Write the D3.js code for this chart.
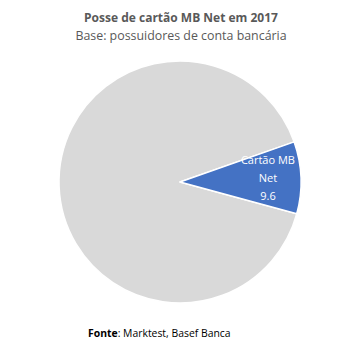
<!DOCTYPE html>
<html>
<head>
<meta charset="utf-8">
<script src="https://cdn.jsdelivr.net/npm/d3@7"></script>
<style>
  body { margin: 0; background: #fff; }
  text { font-family: "Open Sans", "Noto Sans", sans-serif; }
</style>
</head>
<body>
<svg width="359" height="354"></svg>
<script>
const categories = ['Outros', 'Cartão MB Net'];
const values = [90.4, 9.6];
const labelLines = [null, ['Cartão MB', 'Net', '9.6']];
const COLORS = ['#d9d9d9', '#4472c4'];

let svg = d3.select('svg');
let cx = 180, cy = 182, radius = 121;

svg.append('text')
  .attr('x', 181).attr('y', 22)
  .attr('text-anchor', 'middle')
  .attr('font-size', '12px')
  .attr('font-weight', 'bold')
  .attr('fill', '#595959')
  .text('Posse de cartão MB Net em 2017');

svg.append('text')
  .attr('x', 181).attr('y', 40)
  .attr('text-anchor', 'middle')
  .attr('font-size', '12.4px')
  .attr('fill', '#595959')
  .text('Base: possuidores de conta bancária');

// grey slice starts at the lower edge of the blue one
let start = 105.2 * Math.PI / 180;
let pie = d3.pie().sort(null).startAngle(start).endAngle(start + 2 * Math.PI);
let arcs = pie(values);
let arc = d3.arc().innerRadius(0).outerRadius(radius);
let labelArc = d3.arc().innerRadius(88).outerRadius(88);

let g = svg.append('g').attr('transform', `translate(${cx},${cy})`);

g.selectAll('path')
  .data(arcs)
  .enter()
  .append('path')
  .attr('d', arc)
  .attr('fill', (d, i) => COLORS[i])
  .attr('stroke', '#fff')
  .attr('stroke-width', 1.5)
  .attr('stroke-linejoin', 'round');

arcs.forEach((d, i) => {
  if (!labelLines[i]) return;
  let [lx, ly] = labelArc.centroid(d);
  let t = g.append('text')
    .attr('text-anchor', 'middle')
    .attr('font-size', '11px')
    .attr('fill', '#fff');
  labelLines[i].forEach((line, j) => {
    t.append('tspan')
      .attr('x', lx)
      .attr('y', ly + (j - 1) * 18 + 3)
      .text(line);
  });
});

let foot = svg.append('text')
  .attr('x', 88).attr('y', 337)
  .attr('font-size', '10.4px')
  .attr('fill', '#000');
foot.append('tspan').attr('font-weight', 'bold').text('Fonte');
foot.append('tspan').text(': Marktest, Basef Banca');
</script>
</body>
</html>
